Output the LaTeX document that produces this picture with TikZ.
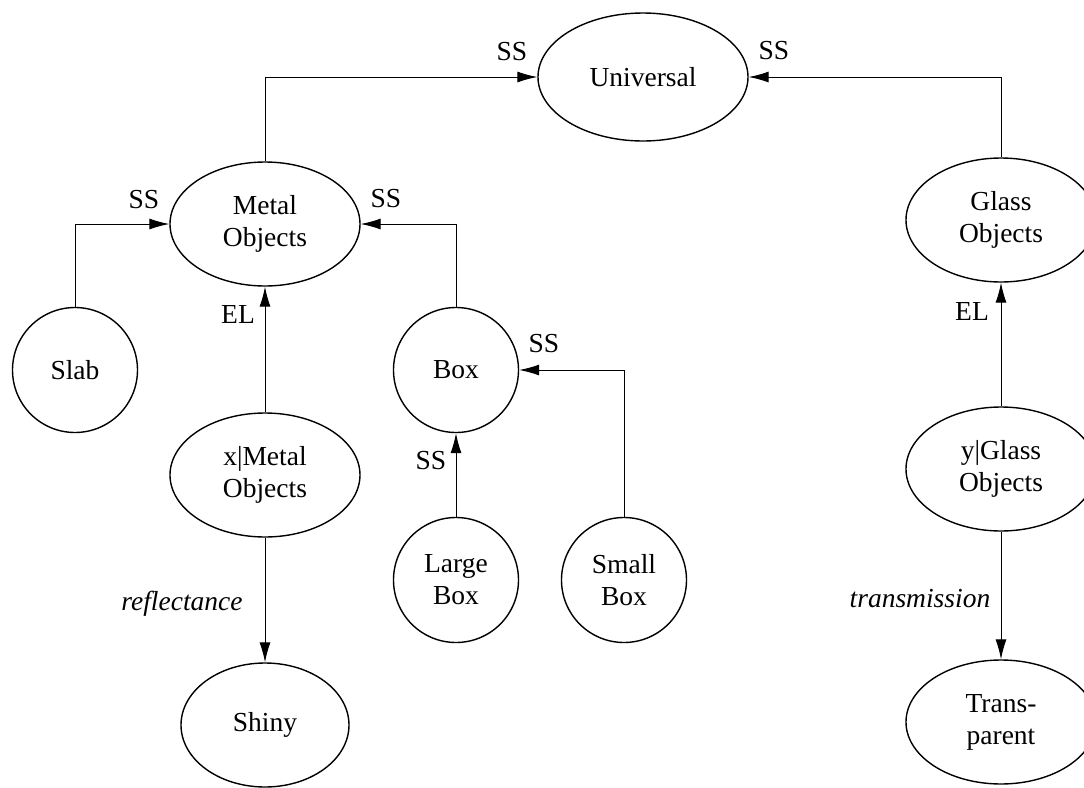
\documentclass[tikz,border=0pt]{standalone}
\usepackage{fontspec}
\setmainfont{Liberation Serif}
\usetikzlibrary{shapes.geometric,arrows.meta}
\begin{document}
\begin{tikzpicture}[x=0.5pt,y=-0.5pt,
  every node/.style={font=\fontsize{13.75}{16}\selectfont},
  oval/.style={ellipse,draw,line width=0.7pt,inner sep=0pt,align=center,
    minimum width=95pt,minimum height=62pt},
  disc/.style={circle,draw,line width=0.7pt,inner sep=0pt,align=center,
    minimum size=62.5pt},
  link/.style={line width=0.5pt,-{Latex[length=10pt,width=5.5pt]}},
  tag/.style={anchor=base,inner sep=0pt},
  itag/.style={tag,font=\fontsize{13.75}{16}\selectfont\itshape}]
  \useasboundingbox (0,0) rectangle (1084,788);
  \clip (0,0) rectangle (1084,788);

  % concept nodes
  \node[oval,minimum width=105pt,minimum height=64pt] (univ) at (643,77) {Universal};
  \node[oval] (metal) at (265,224) {Metal\\Objects};
  \node[oval] (glass) at (1001,220) {Glass\\Objects};
  \node[disc] (slab) at (75,370) {Slab};
  \node[disc] (box) at (456,370) {Box};
  \node[oval] (xmetal) at (265,475) {x|Metal\\Objects};
  \node[disc] (large) at (456,580) {Large\\Box};
  \node[disc] (small) at (624,580) {Small\\Box};
  \node[oval,minimum width=84pt] (shiny) at (265,725) {Shiny};
  \node[oval] (yglass) at (1001,469) {y|Glass\\Objects};
  \node[oval] (transp) at (1001,722) {Trans-\\parent};

  % links
  \draw[link] (metal.north) |- (univ.west);
  \draw[link] (glass.north) |- (univ.east);
  \draw[link] (slab.north) |- (metal.west);
  \draw[link] (box.north) |- (metal.east);
  \draw[link] (small.north) |- (box.east);
  \draw[link] (large.north) -- (box.south);
  \draw[link] (xmetal.north) -- (metal.south);
  \draw[link] (xmetal.south) -- (shiny.north);
  \draw[link] (yglass.north) -- (glass.south);
  \draw[link] (yglass.south) -- (transp.north);

  % link labels
  \node[tag] (ssUl) at (512,60) {SS};
  \node[tag] (ssUr) at (774,59) {SS};
  \node[tag] (ssMl) at (144,208) {SS};
  \node[tag] (ssMr) at (386,207) {SS};
  \node[tag] (elM) at (238,323) {EL};
  \node[tag] (ssBs) at (544,352) {SS};
  \node[tag] (ssBl) at (431,469) {SS};
  \node[tag] (elG) at (972,320) {EL};
  \node[itag] (refl) at (182,610) {reflectance};
  \node[itag] (trans) at (920,607) {transmission};
\end{tikzpicture}
\end{document}
